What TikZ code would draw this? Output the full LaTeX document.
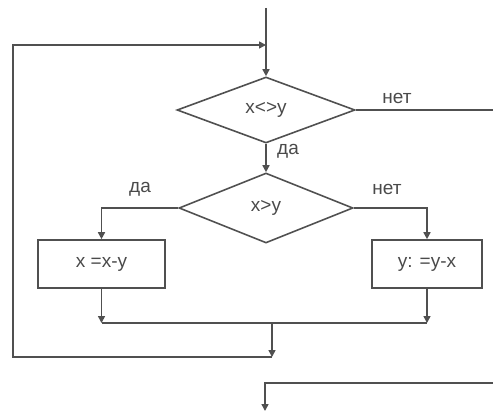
\documentclass[tikz,border=0pt]{standalone}
\usepackage{fontspec}
\setmainfont{Liberation Sans}
\usetikzlibrary{shapes.geometric,arrows.meta}
\definecolor{ln}{HTML}{505050}
\definecolor{tx}{HTML}{4A4A4A}
\begin{document}
\begin{tikzpicture}[x=1pt,y=-1pt,
  line width=1.6pt, draw=ln, text=tx, font=\fontsize{19}{22}\selectfont,
  arr/.style={-{Triangle[length=7pt,width=7pt]}},
  cond/.style={diamond, draw=ln, inner sep=0pt},
  proc/.style={rectangle, draw=ln, inner sep=0pt},
  lbl/.style={inner sep=0pt}]
\useasboundingbox (0,0) rectangle (493,412);
\node[cond, minimum width=178pt, minimum height=66pt, aspect=2.7] (d1) at (266,110) {};
\node[lbl] at (266,110) {x<>y};
\node[cond, minimum width=174pt, minimum height=70pt, aspect=2.5] (d2) at (266,208) {};
\node[lbl] at (266,208) {x>y};
\node[proc, minimum width=127pt, minimum height=48pt] (b1) at (101.5,264) {x =x-y};
\node[proc, minimum width=110pt, minimum height=48pt] (b2) at (427,264) {y: =y-x};
\coordinate (top) at (266,8);
\coordinate (loopTop) at (13,45);
\coordinate (joinIn) at (266,45);
\coordinate (exitR) at (493,110);
\coordinate (L1) at (b1.north |- d2.west);
\coordinate (R1) at (b2.north |- d2.east);
\coordinate (mL) at (101.5,323);
\coordinate (mR) at (427,323);
\coordinate (mC) at (272,323);
\coordinate (mEnd) at (272,357);
\coordinate (loopBot) at (13,357);
\coordinate (bIn) at (493,383);
\coordinate (bCorner) at (265,383);
\coordinate (bEnd) at (265,411);
\draw[arr] (top) -- (d1.north);
\draw[arr] (mEnd) -- (loopBot) -- (loopTop) -- (joinIn);
\draw (d1.east) -- (exitR);
\node[lbl] at (397,98) {нет};
\draw[arr] (d1.south) -- (d2.north);
\node[lbl] at (288,151) {да};
\draw[arr] (d2.west) -- (L1) -- (b1.north);
\node[lbl] at (140,189) {да};
\draw[arr] (d2.east) -- (R1) -- (b2.north);
\node[lbl] at (387,189) {нет};
\draw[arr] (b1.south) -- (mL);
\draw[arr] (b2.south) -- (mR);
\draw (mL) -- (mR);
\draw[arr] (mC) -- (mEnd);
\draw[arr] (bIn) -- (bCorner) -- (bEnd);
\end{tikzpicture}
\end{document}
